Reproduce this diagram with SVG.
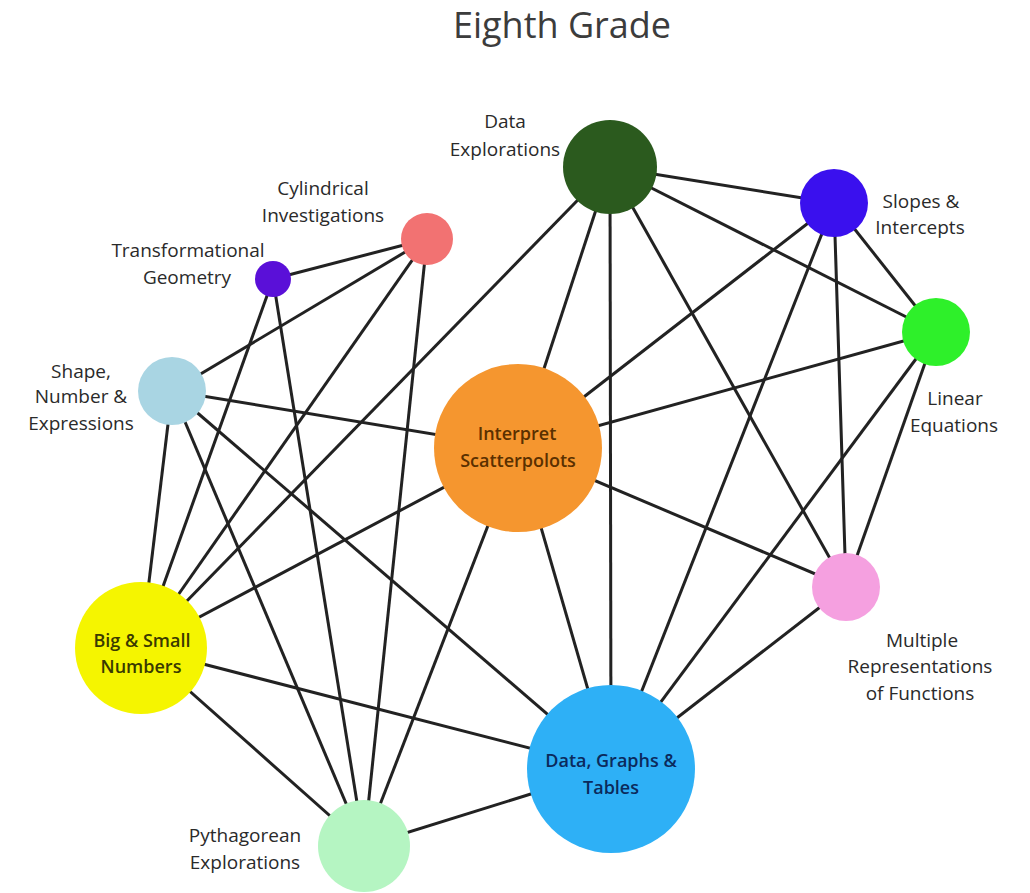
<svg xmlns="http://www.w3.org/2000/svg" width="1030" height="893" viewBox="0 0 1030 893">
<style>
.bg{fill:#ffffff}
.title{font-family:"Open Sans","Liberation Sans",sans-serif;font-size:36px;font-weight:500;fill:#3c3c3c;text-anchor:middle}
.lbl{font-family:"Open Sans","Liberation Sans",sans-serif;font-size:19px;fill:#2a2a2a;text-anchor:middle}
.in{font-family:"Open Sans","Liberation Sans",sans-serif;font-size:18px;font-weight:600;text-anchor:middle}
#edges line{stroke:#222;stroke-width:3}
</style>
<rect class="bg" x="0" y="0" width="1030" height="893"/>
<text class="title" x="562" y="38">Eighth Grade</text>
<g id="edges">
<line x1="610" y1="167" x2="834" y2="203"/>
<line x1="610" y1="167" x2="936" y2="332"/>
<line x1="610" y1="167" x2="518" y2="448"/>
<line x1="610" y1="167" x2="611" y2="769"/>
<line x1="610" y1="167" x2="846" y2="587"/>
<line x1="610" y1="167" x2="141" y2="648"/>
<line x1="834" y1="203" x2="936" y2="332"/>
<line x1="834" y1="203" x2="518" y2="448"/>
<line x1="834" y1="203" x2="611" y2="769"/>
<line x1="834" y1="203" x2="846" y2="587"/>
<line x1="936" y1="332" x2="518" y2="448"/>
<line x1="936" y1="332" x2="611" y2="769"/>
<line x1="936" y1="332" x2="846" y2="587"/>
<line x1="518" y1="448" x2="846" y2="587"/>
<line x1="518" y1="448" x2="611" y2="769"/>
<line x1="518" y1="448" x2="172" y2="391"/>
<line x1="518" y1="448" x2="141" y2="648"/>
<line x1="518" y1="448" x2="364" y2="846"/>
<line x1="172" y1="391" x2="427" y2="239"/>
<line x1="172" y1="391" x2="141" y2="648"/>
<line x1="172" y1="391" x2="364" y2="846"/>
<line x1="172" y1="391" x2="611" y2="769"/>
<line x1="427" y1="239" x2="273" y2="279"/>
<line x1="427" y1="239" x2="141" y2="648"/>
<line x1="427" y1="239" x2="364" y2="846"/>
<line x1="273" y1="279" x2="141" y2="648"/>
<line x1="273" y1="279" x2="364" y2="846"/>
<line x1="141" y1="648" x2="611" y2="769"/>
<line x1="141" y1="648" x2="364" y2="846"/>
<line x1="364" y1="846" x2="611" y2="769"/>
<line x1="846" y1="587" x2="611" y2="769"/>
</g>
<g id="data-explorations">
<circle cx="610" cy="167" r="47" fill="#2b5a1e"/>
<text class="lbl" x="505" y="128">Data</text>
<text class="lbl" x="505" y="156">Explorations</text>
</g>
<g id="slopes-intercepts">
<circle cx="834" cy="203" r="34" fill="#3a10ee"/>
<text class="lbl" x="921" y="208">Slopes &amp;</text>
<text class="lbl" x="920" y="234">Intercepts</text>
</g>
<g id="linear-equations">
<circle cx="936" cy="332" r="34" fill="#2ef02a"/>
<text class="lbl" x="955" y="405">Linear</text>
<text class="lbl" x="954" y="432">Equations</text>
</g>
<g id="multiple-representations">
<circle cx="846" cy="587" r="34" fill="#f5a0e0"/>
<text class="lbl" x="922" y="647">Multiple</text>
<text class="lbl" x="920" y="673">Representations</text>
<text class="lbl" x="920" y="700">of Functions</text>
</g>
<g id="data-graphs-tables">
<circle cx="611" cy="769" r="84" fill="#2eb0f6"/>
<text class="in" x="611" y="767" fill="#0b2a5c">Data, Graphs &amp;</text>
<text class="in" x="611" y="794" fill="#0b2a5c">Tables</text>
</g>
<g id="pythagorean-explorations">
<circle cx="364" cy="846" r="46" fill="#b5f5c2"/>
<text class="lbl" x="245" y="842">Pythagorean</text>
<text class="lbl" x="245" y="869">Explorations</text>
</g>
<g id="big-small-numbers">
<circle cx="141" cy="648" r="66" fill="#f5f500"/>
<text class="in" x="142" y="647" fill="#3a3a00">Big &amp; Small</text>
<text class="in" x="141" y="673" fill="#3a3a00">Numbers</text>
</g>
<g id="shape-number-expressions">
<circle cx="172" cy="391" r="34" fill="#a9d5e3"/>
<text class="lbl" x="81" y="378">Shape,</text>
<text class="lbl" x="81" y="403">Number &amp;</text>
<text class="lbl" x="81" y="430">Expressions</text>
</g>
<g id="transformational-geometry">
<circle cx="273" cy="279" r="18" fill="#5a10d8"/>
<text class="lbl" x="188" y="257">Transformational</text>
<text class="lbl" x="187" y="284">Geometry</text>
</g>
<g id="cylindrical-investigations">
<circle cx="427" cy="239" r="26" fill="#f27272"/>
<text class="lbl" x="323" y="195">Cylindrical</text>
<text class="lbl" x="323" y="222">Investigations</text>
</g>
<g id="interpret-scatterplots">
<circle cx="518" cy="448" r="84" fill="#f5962f"/>
<text class="in" x="517" y="440" fill="#5a3000">Interpret</text>
<text class="in" x="518" y="467" fill="#5a3000">Scatterpolots</text>
</g>
</svg>
